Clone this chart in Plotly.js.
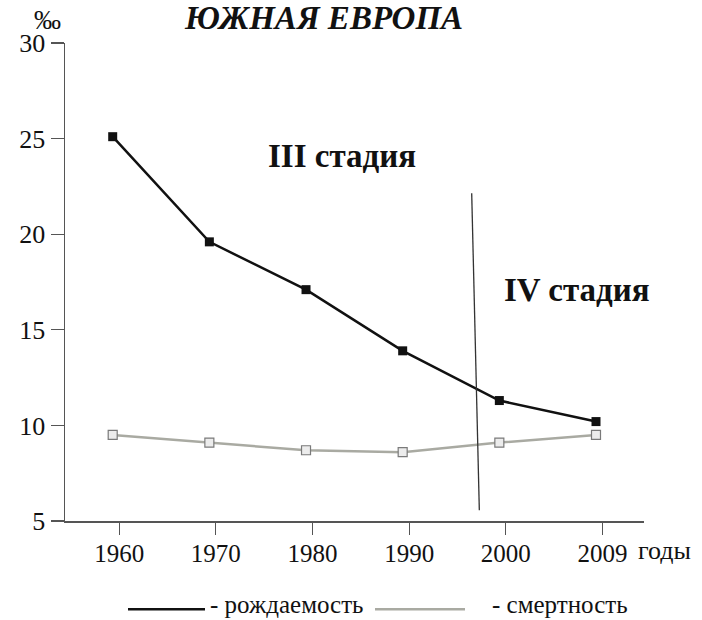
<!DOCTYPE html>
<html>
<head>
<meta charset="utf-8">
<script src="https://cdn.plot.ly/plotly-3.0.1.min.js"></script>
<style>html,body{margin:0;padding:0;background:#fff;}#chart{width:702px;height:620px;}</style>
</head>
<body>
<div id="chart"></div>
<script>
var years = ['1960', '1970', '1980', '1990', '2000', '2009'];
var birthRate = [25.1, 19.6, 17.1, 13.9, 11.3, 10.2];
var deathRate = [9.5, 9.1, 8.7, 8.6, 9.1, 9.5];
var yTicks = [5, 10, 15, 20, 25, 30];

var W = 702, H = 620;
var L = 65, R = 644, T = 43, B = 520.7;
function pxX(x) { return (x - L) / (R - L); }
function pxY(y) { return (B - y) / (B - T); }

var idx = years.map(function (_, i) { return i; });
var FONT = 'Liberation Serif, Times New Roman, serif';

var traces = [
  {
    x: idx, y: deathRate, type: 'scatter', mode: 'lines+markers',
    line: {color: '#a9aaa2', width: 2.5},
    marker: {symbol: 'square', size: 9, color: '#ececec', line: {color: '#7a7a7a', width: 1.2}},
    hoverinfo: 'skip'
  },
  {
    x: idx, y: birthRate, type: 'scatter', mode: 'lines+markers',
    line: {color: '#111111', width: 2.5},
    marker: {symbol: 'square', size: 9, color: '#111111'},
    hoverinfo: 'skip'
  }
];

var layout = {
  width: W, height: H,
  margin: {l: L, r: W - R, t: T, b: H - B},
  paper_bgcolor: '#ffffff', plot_bgcolor: '#ffffff',
  showlegend: false,
  font: {family: FONT, color: '#111'},
  title: {
    text: '<b><i>ЮЖНАЯ ЕВРОПА</i></b>',
    font: {family: FONT, size: 33, color: '#111'},
    x: 324 / W, xanchor: 'center', xref: 'container',
    y: 1 - 17 / H, yanchor: 'middle', yref: 'container'
  },
  xaxis: {
    range: [(L - 112.7) / 96.66, (R - 112.7) / 96.66],
    tickvals: idx.map(function (i) { return i + 0.067; }),
    ticktext: years,
    showgrid: false, zeroline: false,
    showline: true, linecolor: '#555', linewidth: 1.5,
    ticks: 'outside', ticklen: 12, tickcolor: '#555', tickwidth: 1.3,
    tickfont: {family: FONT, size: 25, color: '#111'},
    ticklabelstandoff: -3,
    fixedrange: true
  },
  yaxis: {
    range: [5, 30],
    tickvals: yTicks,
    showgrid: false, zeroline: false,
    showline: true, linecolor: '#555', linewidth: 1.5,
    ticks: 'outside', ticklen: 13, tickcolor: '#555', tickwidth: 1.3,
    tickfont: {family: FONT, size: 26, color: '#111'},
    fixedrange: true
  },
  shapes: [
    {type: 'line', xref: 'x', yref: 'y', x0: 3.714, y0: 22.14, x1: 3.793, y1: 5.56,
     line: {color: '#333', width: 1.3}},
    {type: 'line', xref: 'paper', yref: 'paper', x0: pxX(128), x1: pxX(205), y0: pxY(609), y1: pxY(609),
     line: {color: '#111', width: 2.5}},
    {type: 'line', xref: 'paper', yref: 'paper', x0: pxX(375), x1: pxX(465), y0: pxY(609), y1: pxY(609),
     line: {color: '#a9aaa2', width: 2.5}}
  ],
  annotations: [
    {text: '‰', xref: 'paper', yref: 'paper', x: pxX(47), y: pxY(20), xanchor: 'center', yanchor: 'middle',
     showarrow: false, font: {family: FONT, size: 27, color: '#111'}},
    {text: '<b>III стадия</b>', xref: 'paper', yref: 'paper', x: pxX(342), y: pxY(156), xanchor: 'center', yanchor: 'middle',
     showarrow: false, font: {family: FONT, size: 33, color: '#111'}},
    {text: '<b>IV стадия</b>', xref: 'paper', yref: 'paper', x: pxX(577), y: pxY(290), xanchor: 'center', yanchor: 'middle',
     showarrow: false, font: {family: FONT, size: 33, color: '#111'}},
    {text: 'годы', xref: 'paper', yref: 'paper', x: pxX(636), y: pxY(550), xanchor: 'left', yanchor: 'middle',
     showarrow: false, font: {family: FONT, size: 26, color: '#111'}},
    {text: '- рождаемость', xref: 'paper', yref: 'paper', x: pxX(208), y: pxY(604), xanchor: 'left', yanchor: 'middle',
     showarrow: false, font: {family: FONT, size: 25, color: '#111'}},
    {text: '- смертность', xref: 'paper', yref: 'paper', x: pxX(490), y: pxY(604), xanchor: 'left', yanchor: 'middle',
     showarrow: false, font: {family: FONT, size: 25, color: '#111'}}
  ]
};

Plotly.newPlot('chart', traces, layout, {displayModeBar: false, staticPlot: true});
</script>
</body>
</html>
